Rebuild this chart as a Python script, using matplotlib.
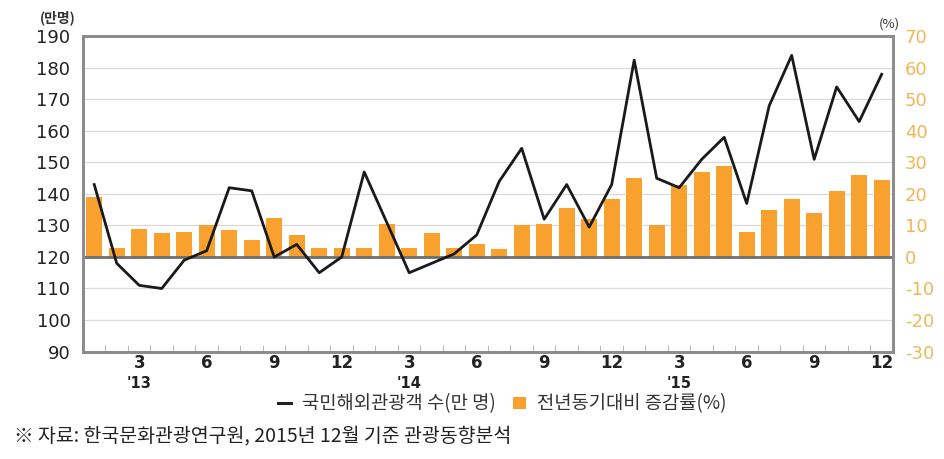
import matplotlib
matplotlib.use('Agg')
import matplotlib.pyplot as plt
from matplotlib.lines import Line2D
from matplotlib.patches import Patch
import numpy as np

plt.rcParams['font.family'] = ['Noto Sans CJK KR', 'DejaVu Sans']
plt.rcParams['axes.unicode_minus'] = False

# monthly data, Jan 2013 - Dec 2015
travelers = [143, 118, 111, 110, 119, 122, 142, 141, 120, 124, 115, 120,
             147, 131, 115, 118, 121, 127, 144, 154.5, 132, 143, 129.5, 143,
             182.5, 145, 142, 151, 158, 137, 168, 184, 151, 174, 163, 178]
growth = [19, 3, 9, 7.5, 8, 10, 8.5, 5.5, 12.5, 7, 3, 3,
          3, 10.5, 3, 7.5, 3, 4, 2.5, 10, 10.5, 15.5, 12, 18.5,
          25, 10, 23, 27, 29, 8, 15, 18.5, 14, 21, 26, 24.5]
tick_pos = [2, 5, 8, 11, 14, 17, 20, 23, 26, 29, 32, 35]
tick_labels = ['3', '6', '9', '12', '3', '6', '9', '12', '3', '6', '9', '12']
year_pos = [2, 14, 26]
year_labels = ["'13", "'14", "'15"]

bar_color = '#F9A12E'
right_color = '#F2B65A'
spine_color = '#8C8C8C'
x = np.arange(len(travelers))
num_font = ['DejaVu Sans']

fig = plt.figure(figsize=(9.44, 4.59), dpi=100)
ax2 = fig.add_axes([0.0879, 0.2342, 0.858, 0.6863])
ax = ax2.twinx()
# line axis on top of the bar axis
ax.set_zorder(ax2.get_zorder() + 1)
ax.patch.set_visible(False)

ax2.bar(x, growth, width=0.7, color=bar_color, zorder=2)
ax2.set_ylim(-30, 70)
ax2.set_yticks(np.arange(-30, 71, 10))
ax2.grid(axis='y', color='#D9D9D9', linewidth=0.9)
ax2.set_axisbelow(True)
ax2.yaxis.tick_right()
ax2.tick_params(axis='y', length=0, pad=8.5, labelsize=13, labelcolor=right_color)
for lbl in ax2.get_yticklabels():
    lbl.set_family(num_font)

ax.plot(x, travelers, color='#1A1A1A', linewidth=2.0, zorder=3)
ax.axhline(120, color='#6E6E6E', linewidth=2.0, zorder=2)
ax.set_ylim(90, 190)
ax.set_yticks(np.arange(90, 191, 10))
ax.yaxis.tick_left()
ax.tick_params(axis='y', length=0, pad=9, labelsize=13, labelcolor='#222222')
for lbl in ax.get_yticklabels():
    lbl.set_family(num_font)

ax2.set_xlim(-0.5, len(x) - 0.5)
ax2.set_xticks(tick_pos)
ax2.set_xticklabels(tick_labels)
ax2.set_xticks(np.arange(0.5, len(x) - 1, 1), minor=True)
ax2.tick_params(axis='x', which='major', length=0, pad=1.5, labelsize=12, labelcolor='#222222')
ax2.tick_params(axis='x', which='minor', direction='in', length=5, color='#B0B0B0')
for lbl in ax2.get_xticklabels():
    lbl.set_family(num_font)
    lbl.set_fontweight('bold')

for a in (ax, ax2):
    for s in a.spines.values():
        s.set_color(spine_color)
        s.set_linewidth(2.0)

for p, t in zip(year_pos, year_labels):
    ax2.text(p, -0.1, t, transform=ax2.get_xaxis_transform(), ha='center', va='center',
             fontsize=10.5, fontweight='bold', color='#222222', family=num_font)

fig.text(40 / 944, 1 - 18 / 459, '(만명)', fontsize=10, fontweight='bold', color='#333333',
         ha='left', va='center')
fig.text(879 / 944, 1 - 24 / 459, '(%)', fontsize=9.5, color='#333333', ha='left', va='center')

handles = [Line2D([0], [0], color='#222222', linewidth=2.2),
           Patch(facecolor=bar_color, edgecolor='none')]
fig.legend(handles, ['국민해외관광객 수(만 명)', '전년동기대비 증감률(%)'],
           loc='center', bbox_to_anchor=(502 / 944, 1 - 404 / 459), ncol=2, frameon=False,
           fontsize=13.5, handlelength=0.7, handleheight=0.55, handletextpad=0.6,
           columnspacing=0.9, labelcolor='#333333')

fig.text(14 / 944, 1 - 437 / 459, '※ 자료: 한국문화관광연구원, 2015년 12월 기준 관광동향분석',
         fontsize=14, color='#222222', ha='left', va='center')

fig.savefig('out.png', dpi=100)
